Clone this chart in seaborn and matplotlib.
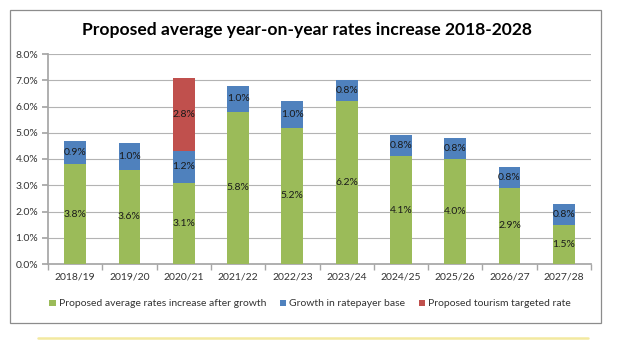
import matplotlib
matplotlib.use("Agg")
import matplotlib.pyplot as plt
import seaborn as sns
import pandas as pd
import numpy as np
from matplotlib.patches import Rectangle, Patch
from matplotlib.lines import Line2D
from matplotlib.ticker import FixedLocator

years = ["2018/19", "2019/20", "2020/21", "2021/22", "2022/23",
         "2023/24", "2024/25", "2025/26", "2026/27", "2027/28"]
rates_after_growth = [3.8, 3.6, 3.1, 5.8, 5.2, 6.2, 4.1, 4.0, 2.9, 1.5]
ratepayer_growth = [0.9, 1.0, 1.2, 1.0, 1.0, 0.8, 0.8, 0.8, 0.8, 0.8]
tourism_rate = [0, 0, 2.8, 0, 0, 0, 0, 0, 0, 0]
series_names = ["Proposed average rates increase after growth",
                "Growth in ratepayer base",
                "Proposed tourism targeted rate"]
colors = ["#9BBB59", "#4F81BD", "#C0504D"]
y_ticks = [0, 1, 2, 3, 4, 5, 6, 7, 8]

sns.set_theme(style="white")
plt.rcParams["font.family"] = ["Lato", "DejaVu Sans"]

fig = plt.figure(figsize=(6.2, 3.49), dpi=100)
fig.patch.set_facecolor("white")
W, H = 620, 349
ax = fig.add_axes([48 / W, 1 - 264 / H, (591 - 48) / W, (264 - 54) / H])

df = pd.DataFrame({"year": years, "g": rates_after_growth,
                   "b": ratepayer_growth, "r": tourism_rate})
bottoms = np.zeros(len(years))
for col, c in zip(["g", "b", "r"], colors):
    sns.barplot(data=df, x="year", y=col, color=c, width=0.4,
                bottom=bottoms.copy(), saturation=1, ax=ax, zorder=3,
                linewidth=0)
    cont = ax.containers[-1]
    vals = df[col].values
    labels = [f"{v:.1f}%" if v > 0 else "" for v in vals]
    ax.bar_label(cont, labels=labels, label_type="center", fontsize=7.5,
                 color="#1a1a1a")
    bottoms = bottoms + vals

ax.set_ylim(0, 8)
ax.set_xlim(-0.5, len(years) - 0.5)
ax.set_yticks(y_ticks)
ax.set_yticklabels([f"{v:.1f}%" for v in y_ticks], fontsize=7.5, color="#333333")
ax.set_xticklabels(years, fontsize=7.5, color="#333333")
ax.set_xlabel("")
ax.set_ylabel("")
ax.yaxis.grid(True, color="#B3B3B3", linewidth=0.8, zorder=0)
ax.set_axisbelow(True)
for s in ["top", "right"]:
    ax.spines[s].set_visible(False)
ax.spines["left"].set_color("#A6A6A6")
ax.spines["bottom"].set_color("#A6A6A6")
ax.tick_params(axis="y", which="major", left=True, length=4, color="#A6A6A6", pad=3)
ax.tick_params(axis="x", which="major", bottom=False, length=0, pad=6)
ax.xaxis.set_minor_locator(FixedLocator(np.arange(-0.5, len(years), 1.0)))
ax.tick_params(axis="x", which="minor", bottom=True, length=4, color="#A6A6A6")

fig.text(0.495, 1 - 30 / H, "Proposed average year-on-year rates increase 2018-2028",
         ha="center", va="center", fontsize=12.6, fontweight="bold", color="black")

handles = [Patch(facecolor=c, edgecolor="none") for c in colors]
fig.legend(handles, series_names, loc="center", bbox_to_anchor=(310 / W, 1 - 304 / H),
           ncol=3, frameon=False, fontsize=7.5, handlelength=0.6, handleheight=0.6,
           handletextpad=0.3, columnspacing=1.3, labelcolor="#333333")

fig.add_artist(Rectangle((10 / W, 1 - 323 / H), (601 - 10) / W, (323 - 10) / H,
                         transform=fig.transFigure, fill=False,
                         edgecolor="#8C8C8C", linewidth=0.9))
fig.add_artist(Line2D([38 / W, 588 / W], [1 - 338 / H, 1 - 338 / H],
                      transform=fig.transFigure, color="#F3E9A0", linewidth=1.8))

fig.savefig("out.png", dpi=100, facecolor="white")
